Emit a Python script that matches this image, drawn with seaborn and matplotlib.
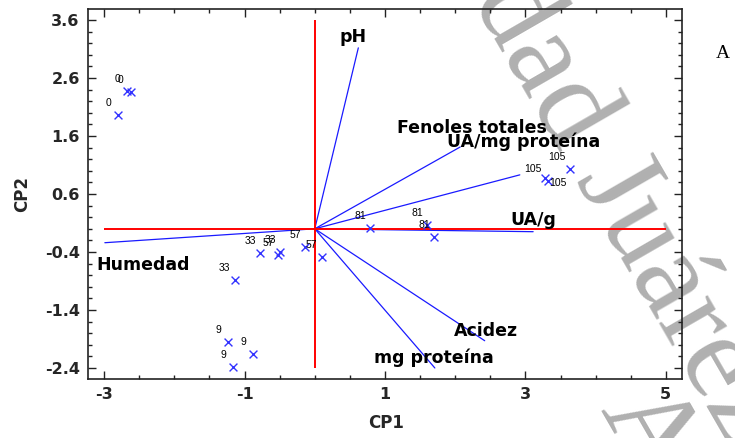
import numpy as np
import pandas as pd
import matplotlib
matplotlib.use("Agg")
import matplotlib.pyplot as plt
import seaborn as sns
from matplotlib.ticker import FixedLocator, MultipleLocator

# ---- data ----
sample_labels = ['0', '0', '0', '9', '9', '9', '33', '33', '33',
                 '57', '57', '57', '81', '81', '81', '105', '105', '105']
cp1_scores = [-2.67, -2.62, -2.80, -1.23, -0.88, -1.16, -0.78, -0.49, -1.14,
              -0.52, -0.14, 0.10, 0.79, 1.60, 1.70, 3.63, 3.28, 3.32]
cp2_scores = [2.38, 2.36, 1.96, -1.95, -2.16, -2.38, -0.42, -0.40, -0.88,
              -0.45, -0.31, -0.49, 0.01, 0.07, -0.14, 1.03, 0.88, 0.82]

variables = ['pH', 'Fenoles totales', 'UA/mg proteína', 'UA/g',
             'Humedad', 'Acidez', 'mg proteína']
cp1_loadings = [0.62, 2.07, 2.92, 3.11, -2.99, 2.42, 1.71]
cp2_loadings = [3.12, 1.41, 0.93, -0.05, -0.24, -1.93, -2.40]

x_ticks = [-3, -1, 1, 3, 5]
x_tick_labels = ['-3', '-1', '1', '3', '5']
y_ticks = [-2.4, -1.4, -0.4, 0.6, 1.6, 2.6, 3.6]
y_tick_labels = ['-2.4', '-1.4', '-0.4', '0.6', '1.6', '2.6', '3.6']

# label placement (pixel offsets)
var_label_offsets = [(-5, 11), (12, 19), (4, 33), (0, 12), (38, -22), (1, 10), (-1, 10)]
default_pt_offset = (-10, 12)
pt_offset_override = {15: (-13, 12), 16: (-12, 9), 17: (10, -2)}

# ---- style ----
sns.set_style("ticks")
plt.rcParams['font.family'] = ['DejaVu Sans']

W, H = 735, 438
fig = plt.figure(figsize=(W / 100, H / 100), dpi=100)
ax = fig.add_axes([88 / W, 1 - 379 / H, (682 - 88) / W, (379 - 9) / H])
ax.patch.set_facecolor('none')

# watermark (behind the plot)
wm_kw = dict(family='Liberation Serif', fontsize=88, color='#b0b0b0',
             rotation=-60, rotation_mode='anchor', va='baseline', zorder=-1)
fig.text(731 / W, 1 - 450 / H, 'Universidad Juárez', ha='right', **wm_kw)
fig.text(600 / W, 1 - 410 / H, 'Autónoma de Tabasco', ha='left', **wm_kw)

# loading vectors
vec_df = pd.DataFrame({
    'var': np.repeat(variables, 2),
    'x': np.ravel([[0.0, v] for v in cp1_loadings]),
    'y': np.ravel([[0.0, v] for v in cp2_loadings]),
})
sns.lineplot(data=vec_df, x='x', y='y', units='var', estimator=None, sort=False,
             color='#1a1aff', linewidth=0.9, ax=ax, legend=False, zorder=2)

# reference lines
ax.vlines(0, y_ticks[0], y_ticks[-1], color='#ff0000', linewidth=1.4, zorder=3)
ax.hlines(0, x_ticks[0], x_ticks[-1], color='#ff0000', linewidth=1.4, zorder=3)

# sample scores
score_df = pd.DataFrame({'CP1': cp1_scores, 'CP2': cp2_scores, 'label': sample_labels})
sns.scatterplot(data=score_df, x='CP1', y='CP2', marker='x', color='#3333ff',
                s=32, linewidth=1.0, ax=ax, zorder=4)

for i, (x, y, lab) in enumerate(zip(cp1_scores, cp2_scores, sample_labels)):
    off = pt_offset_override.get(i, default_pt_offset)
    ax.annotate(lab, (x, y), xytext=off, textcoords='offset pixels',
                ha='center', va='center', fontsize=7.5, color='black',
                family='Liberation Sans', zorder=5)

for name, x, y, off in zip(variables, cp1_loadings, cp2_loadings, var_label_offsets):
    ax.annotate(name, (x, y), xytext=off, textcoords='offset pixels',
                ha='center', va='center', fontsize=12.5, fontweight='bold',
                color='black', zorder=5)

# axes, ticks
ax.set_xlim(-3.23, 5.23)
ax.set_ylim(-2.59, 3.79)
ax.xaxis.set_major_locator(FixedLocator(x_ticks))
ax.yaxis.set_major_locator(FixedLocator(y_ticks))
ax.set_xticklabels(x_tick_labels, fontweight='bold', fontsize=11.5)
ax.set_yticklabels(y_tick_labels, fontweight='bold', fontsize=11.5)
ax.xaxis.set_minor_locator(MultipleLocator(0.5))
ax.yaxis.set_minor_locator(FixedLocator(np.round(np.arange(-2.6, 3.81, 0.2), 2)))
ax.tick_params(which='both', direction='in', top=True, right=True, color='#222222', width=1.0)
ax.tick_params(which='major', length=6, pad=6)
ax.tick_params(which='minor', length=3)
for s in ax.spines.values():
    s.set_visible(True)
    s.set_linewidth(1.2)
    s.set_color('#222222')

ax.set_xlabel('CP1', fontweight='bold', fontsize=12)
ax.set_ylabel('CP2', fontweight='bold', fontsize=12)
ax.xaxis.set_label_coords(0.502, -0.119)
ax.xaxis.label.set_va('center')
ax.yaxis.set_label_coords(-0.111, 0.5)
ax.yaxis.label.set_va('center')

fig.text(723 / W, 1 - 53 / H, 'A', family='Liberation Serif', fontsize=14,
         ha='center', va='center', color='black')

fig.savefig('out.png', dpi=100)
